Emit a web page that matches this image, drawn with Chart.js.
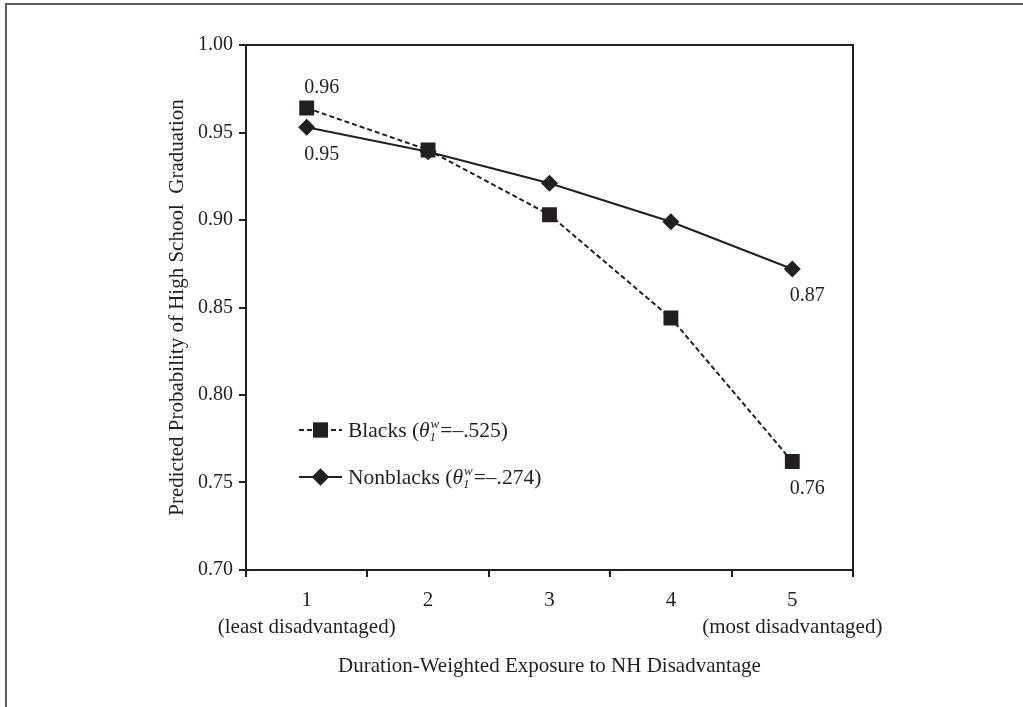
<!DOCTYPE html>
<html>
<head>
<meta charset="utf-8">
<title>Predicted Probability of High School Graduation</title>
<script src="https://cdn.jsdelivr.net/npm/chart.js@4.4.1/dist/chart.umd.min.js"></script>
<style>
  html, body { margin: 0; padding: 0; background: #fff; }
  #wrap { position: relative; width: 1023px; height: 707px; }
</style>
</head>
<body>
<div id="wrap"><canvas id="chart" width="1023" height="707"></canvas></div>
<script>
// exposure quintiles on the x axis
const exposureLevels = ['1', '2', '3', '4', '5'];
const levelNotes     = ['(least disadvantaged)', '', '', '', '(most disadvantaged)'];

// predicted probabilities
const blacks    = [0.964, 0.940, 0.903, 0.844, 0.762];
const nonblacks = [0.953, 0.939, 0.921, 0.899, 0.872];

// values printed next to the end points
const blackNotes    = ['0.96', null, null, null, '0.76'];
const nonblackNotes = ['0.95', null, null, null, '0.87'];

const seriesNames = ['Blacks', 'Nonblacks'];
const thetaValues = ['\u2013.525', '\u2013.274'];

const yTicks = [0.70, 0.75, 0.80, 0.85, 0.90, 0.95, 1.00];

const INK   = '#231f20';
const SERIF = "'Liberation Serif', 'Times New Roman', serif";

const frame = {
  id: 'frame',
  beforeDraw(chart) {
    const ctx = chart.ctx;
    ctx.save();
    ctx.fillStyle = '#5f5f5f';
    ctx.fillRect(5, 3, 1018, 2);   // outer page rule
    ctx.fillRect(5, 3, 2, 704);
    ctx.restore();
  },
  afterDraw(chart) {
    const { ctx, chartArea: a } = chart;
    ctx.save();
    ctx.strokeStyle = INK;
    ctx.lineWidth = 2;
    ctx.beginPath();
    ctx.moveTo(a.left, a.top);
    ctx.lineTo(a.right, a.top);
    ctx.lineTo(a.right, a.bottom);
    ctx.stroke();
    ctx.restore();
  },
};

// value labels beside first/last points
const pointLabels = {
  id: 'pointLabels',
  afterDatasetsDraw(chart) {
    const ctx = chart.ctx;
    const notes = [blackNotes, nonblackNotes];
    ctx.save();
    ctx.font = '20px ' + SERIF;
    ctx.fillStyle = INK;
    ctx.textAlign = 'center';
    ctx.textBaseline = 'middle';
    notes.forEach((arr, di) => {
      const meta = chart.getDatasetMeta(di);
      arr.forEach((txt, i) => {
        if (!txt) return;
        const p = meta.data[i];
        const above = di === 0 && i === 0;
        ctx.fillText(txt, p.x + 15, p.y + (above ? -20 : 27));
      });
    });
    ctx.restore();
  },
};

// legend with theta subscript / superscript
const thetaLegend = {
  id: 'thetaLegend',
  afterDraw(chart) {
    const { ctx, chartArea: a } = chart;
    const rowY = [a.top + 385, a.top + 432];
    ctx.save();
    ctx.fillStyle = INK;
    ctx.textBaseline = 'alphabetic';
    chart.data.datasets.forEach((ds, i) => {
      const y = rowY[i];
      const x0 = a.left + 53, x1 = a.left + 96;
      ctx.strokeStyle = INK;
      ctx.lineWidth = 2;
      ctx.setLineDash(ds.borderDash || []);
      ctx.beginPath();
      ctx.moveTo(x0, y);
      ctx.lineTo(x1, y);
      ctx.stroke();
      ctx.setLineDash([]);
      Chart.helpers.drawPoint(ctx, {
        pointStyle: ds.pointStyle, radius: ds.pointRadius, rotation: 0, borderWidth: 0,
      }, (x0 + x1) / 2, y);
      ctx.fill();

      let x = x1 + 6;
      const base = y + 7;
      const put = (txt, font, dy) => {
        ctx.font = font;
        ctx.fillText(txt, x, base + dy);
        x += ctx.measureText(txt).width;
      };
      put(seriesNames[i] + ' (', '21.5px ' + SERIF, 0);
      put('\u03b8', 'italic 21.5px ' + SERIF, 0);
      const sx = x;
      put('1', 'italic 13px ' + SERIF, 4);
      x = sx + 1;
      put('w', 'italic 13px ' + SERIF, -9);
      x += 1;
      put('=' + thetaValues[i] + ')', '21.5px ' + SERIF, 0);
    });
    ctx.restore();
  },
};

new Chart(document.getElementById('chart'), {
  type: 'line',
  data: {
    labels: exposureLevels.map((l, i) => levelNotes[i] ? [l, levelNotes[i]] : l),
    datasets: [
      {
        label: seriesNames[0],
        data: blacks,
        borderColor: INK,
        backgroundColor: INK,
        borderWidth: 2,
        borderDash: [5, 3],
        pointStyle: 'rect',
        pointRadius: 10.5,
        pointBorderWidth: 0,
        tension: 0,
      },
      {
        label: seriesNames[1],
        data: nonblacks,
        borderColor: INK,
        backgroundColor: INK,
        borderWidth: 2,
        pointStyle: 'rectRot',
        pointRadius: 8.5,
        pointBorderWidth: 0,
        tension: 0,
      },
    ],
  },
  options: {
    responsive: false,
    animation: false,
    layout: { padding: { left: 0, top: 45, right: 170, bottom: 0 } },
    plugins: {
      legend: { display: false },
      tooltip: { enabled: false },
    },
    scales: {
      x: {
        type: 'category',
        offset: true,
        grid: { offset: true, drawOnChartArea: false, tickLength: 7, color: INK, lineWidth: 2 },
        border: { color: INK, width: 2 },
        ticks: {
          color: INK, padding: 10, maxRotation: 0, autoSkip: false,
          font: { family: SERIF, size: 21, lineHeight: 1.3 },
        },
        title: {
          display: true,
          text: 'Duration-Weighted Exposure to NH Disadvantage',
          color: INK,
          font: { family: SERIF, size: 21 },
          padding: { top: 0, bottom: 28 },
        },
        afterFit(s) { s.height = 137; },
      },
      y: {
        min: 0.70,
        max: 1.00,
        afterBuildTicks(s) { s.ticks = yTicks.map(v => ({ value: v })); },
        grid: { drawOnChartArea: false, tickLength: 7, color: INK, lineWidth: 2 },
        border: { color: INK, width: 2 },
        ticks: {
          color: INK, padding: 6,
          font: { family: SERIF, size: 20 },
          callback: v => v.toFixed(2),
        },
        title: {
          display: true,
          text: 'Predicted Probability of High School  Graduation',
          color: INK,
          font: { family: SERIF, size: 21 },
          padding: { top: 165, bottom: 0 },
        },
        afterFit(s) { s.width = 246; },
      },
    },
  },
  plugins: [frame, pointLabels, thetaLegend],
});
</script>
</body>
</html>
